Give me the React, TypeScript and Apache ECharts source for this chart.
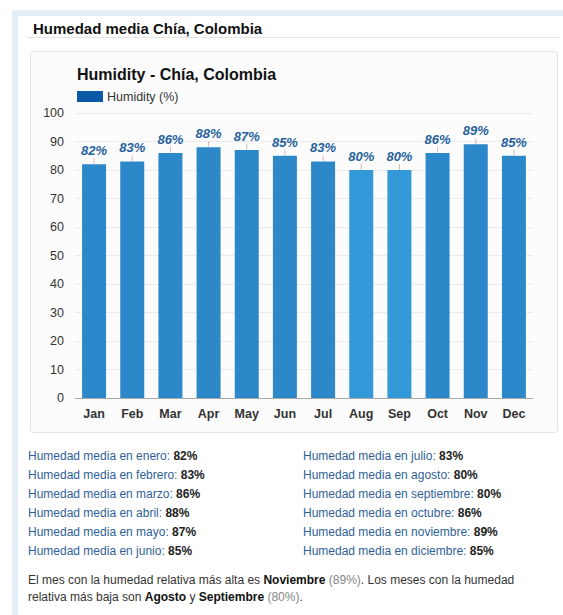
import React, { useEffect, useRef } from "react";
import * as echarts from "echarts";

const months = ["Jan", "Feb", "Mar", "Apr", "May", "Jun", "Jul", "Aug", "Sep", "Oct", "Nov", "Dec"];
const humidity = [82, 83, 86, 88, 87, 85, 83, 80, 80, 86, 89, 85];
const yTicks = [0, 10, 20, 30, 40, 50, 60, 70, 80, 90, 100];
const monthNamesEs = ["enero", "febrero", "marzo", "abril", "mayo", "junio", "julio", "agosto", "septiembre", "octubre", "noviembre", "diciembre"];
const pageTitle = "Humedad media Chía, Colombia";
const chartTitle = "Humidity - Chía, Colombia";
const legendLabel = "Humidity (%)";

const FONT = "'Liberation Sans', Arial, Helvetica, sans-serif";

export default function App() {
  const ref = useRef<HTMLDivElement>(null);
  useEffect(() => {
    if (!ref.current) return;
    const chart = echarts.init(ref.current, null, { renderer: "svg" });

    const listItems: any[] = [];
    monthNamesEs.forEach((m, i) => {
      const col = i < 6 ? 0 : 1;
      const row = i % 6;
      listItems.push({
        type: "text",
        x: col === 0 ? 28 : 303,
        y: 456 + row * 19,
        style: {
          text: `{l|Humedad media en ${m}: }{v|${humidity[i]}%}`,
          verticalAlign: "middle",
          rich: {
            l: { fontSize: 12, fontFamily: FONT, fill: "#2f5f98" },
            v: { fontSize: 12, fontFamily: FONT, fill: "#222", fontWeight: "bold" },
          },
        },
      });
    });

    const maxIdx = humidity.indexOf(Math.max(...humidity));
    const minVal = Math.min(...humidity);
    const cap = (s: string) => s.charAt(0).toUpperCase() + s.slice(1);
    const minNames = humidity
      .map((v, i) => (v === minVal ? monthNamesEs[i] : null))
      .filter((x) => x !== null)
      .map((s: any) => cap(s));

    const richPara = {
      n: { fontSize: 12, fontFamily: FONT, fill: "#333" },
      b: { fontSize: 12, fontFamily: FONT, fill: "#111", fontWeight: "bold" },
      g: { fontSize: 12, fontFamily: FONT, fill: "#888" },
    };

    const option: any = {
      animation: false,
      backgroundColor: "#ffffff",
      grid: { left: 75, right: 30, top: 113, bottom: 217, containLabel: false },
      xAxis: {
        type: "category",
        data: months,
        axisTick: { show: false },
        axisLine: { lineStyle: { color: "#a8a8a8", width: 1 } },
        axisLabel: { color: "#333", fontSize: 12.5, fontWeight: "bold", fontFamily: FONT, margin: 9 },
      },
      yAxis: {
        type: "value",
        min: yTicks[0],
        max: yTicks[yTicks.length - 1],
        interval: 10,
        axisLine: { show: false },
        axisTick: { show: false },
        axisLabel: { color: "#333", fontSize: 12.5, fontFamily: FONT, margin: 11 },
        splitLine: { lineStyle: { color: "#ebebeb", width: 1 } },
      },
      series: [
        {
          type: "bar",
          barWidth: 24,
          data: humidity.map((v, i) => ({
            value: v,
            itemStyle: { color: i === 7 || i === 8 ? "#3399d8" : "#2c88c9" },
          })),
          label: {
            show: true,
            position: "top",
            distance: 7,
            formatter: "{c}%",
            color: "#26619d",
            fontSize: 13,
            fontWeight: "bold",
            fontStyle: "italic",
            fontFamily: FONT,
          },
          z: 2,
        },
        {
          type: "custom",
          data: humidity.map((v, i) => [i, v]),
          renderItem: (params: any, api: any) => {
            const p = api.coord([api.value(0), api.value(1)]);
            return {
              type: "line",
              shape: { x1: p[0], y1: p[1], x2: p[0], y2: p[1] - 6 },
              style: { stroke: "#d8b9b9", lineWidth: 1 },
            };
          },
          z: 3,
          silent: true,
        },
      ],
      graphic: [
        { type: "rect", shape: { x: 12, y: 10, width: 551, height: 6 }, style: { fill: "#e4eef8" }, z: -10 },
        { type: "rect", shape: { x: 12, y: 10, width: 6, height: 605 }, style: { fill: "#e4eef8" }, z: -10 },
        {
          type: "text",
          x: 33,
          y: 28,
          style: { text: pageTitle, fontSize: 15, fontWeight: "bold", fontFamily: FONT, fill: "#111", verticalAlign: "middle" },
        },
        { type: "line", shape: { x1: 27, y1: 37.5, x2: 560, y2: 37.5 }, style: { stroke: "#e3e3e3", lineWidth: 1 } },
        {
          type: "rect",
          shape: { x: 30.5, y: 51.5, width: 527, height: 381, r: 3 },
          style: { fill: "#fcfcfc", stroke: "#e4e4e4", lineWidth: 1 },
          z: -5,
        },
        {
          type: "text",
          x: 77,
          y: 74,
          style: { text: chartTitle, fontSize: 16, fontWeight: "bold", fontFamily: FONT, fill: "#111", verticalAlign: "middle" },
        },
        { type: "rect", shape: { x: 77, y: 91, width: 26, height: 11 }, style: { fill: "#0b59a6" } },
        {
          type: "text",
          x: 107,
          y: 96.5,
          style: { text: legendLabel, fontSize: 12.5, fontFamily: FONT, fill: "#333", verticalAlign: "middle" },
        },
        ...listItems,
        {
          type: "text",
          x: 28,
          y: 580,
          style: {
            text: `{n|El mes con la humedad relativa más alta es }{b|${cap(monthNamesEs[maxIdx])}}{g| (${humidity[maxIdx]}%)}{n|. Los meses con la humedad}`,
            verticalAlign: "middle",
            rich: richPara,
          },
        },
        {
          type: "text",
          x: 28,
          y: 597,
          style: {
            text: `{n|relativa más baja son }{b|${minNames[0]}}{n| y }{b|${minNames[1]}}{g| (${minVal}%)}{n|.}`,
            verticalAlign: "middle",
            rich: richPara,
          },
        },
      ],
    };
    chart.setOption(option);
    return () => chart.dispose();
  }, []);
  return (
    <div
      ref={ref}
      style={{ position: "fixed", left: 0, top: 0, width: 563, height: 615, background: "#fff" }}
    />
  );
}
